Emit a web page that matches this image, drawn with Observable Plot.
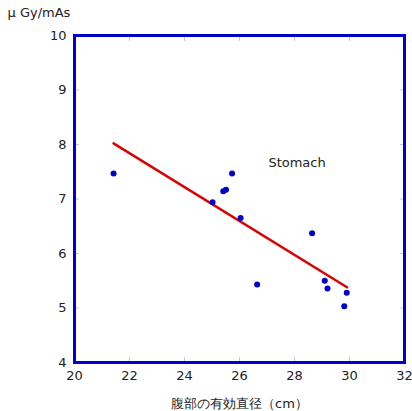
<!DOCTYPE html>
<html>
<head>
<meta charset="utf-8">
<script src="https://cdn.jsdelivr.net/npm/d3@7"></script>
<script src="https://cdn.jsdelivr.net/npm/@observablehq/plot@0.6"></script>
<style>
  html, body { margin: 0; padding: 0; background: #fff; }
  #chart svg { display: block; }
</style>
</head>
<body>
<div id="chart"></div>
<script>
// Data
const diameter = [21.42, 25.02, 25.41, 25.51, 25.73, 26.04, 28.64, 26.64, 29.10, 29.20, 29.90, 29.81];
const dose     = [7.47, 6.94, 7.14, 7.17, 7.47, 6.65, 6.37, 5.43, 5.50, 5.36, 5.28, 5.03];
const fitX = [21.42, 29.91];
const fitY = [8.02, 5.38];
const xTicks = [20, 22, 24, 26, 28, 30, 32];
const yTicks = [4, 5, 6, 7, 8, 9, 10];
const seriesLabel = ["Stomach"];
const seriesLabelPos = [27.05, 7.67];
const xLabel = "腹部の有効直径（cm）";
const yLabel = "μ Gy/mAs";

const points = diameter.map((d, i) => ({x: d, y: dose[i]}));
const fit = fitX.map((d, i) => ({x: d, y: fitY[i]}));

const blue = "#0000cc";
const tickColor = "#c0c0ff";
const font = "'DejaVu Sans', Verdana, sans-serif";

const chart = Plot.plot({
  width: 412,
  height: 411,
  marginLeft: 74,
  marginRight: 8,
  marginTop: 35,
  marginBottom: 49,
  style: {fontFamily: font, fontSize: "13px", color: "#000", background: "#fff"},
  x: {domain: [20, 32]},
  y: {domain: [4, 10]},
  marks: [
    // inward ticks on all four sides
    Plot.axisX(xTicks, {anchor: "bottom", tickSize: -5, stroke: tickColor, text: null, label: null}),
    Plot.axisX(xTicks, {anchor: "top", tickSize: -5, stroke: tickColor, text: null, label: null}),
    Plot.axisY(yTicks, {anchor: "left", tickSize: -5, stroke: tickColor, text: null, label: null}),
    Plot.axisY(yTicks, {anchor: "right", tickSize: -5, stroke: tickColor, text: null, label: null}),
    // tick labels
    Plot.axisX(xTicks, {anchor: "bottom", tickSize: 0, tickPadding: 8, fontSize: 13, fill: "#222",
      tickFormat: d => String(d),
      label: xLabel, labelAnchor: "center", labelArrow: "none", labelOffset: 45}),
    Plot.axisY(yTicks, {anchor: "left", tickSize: 0, tickPadding: 8, fontSize: 13, fill: "#222",
      tickFormat: d => String(d), label: null}),
    Plot.text([yLabel], {frameAnchor: "top-left", dx: -67, dy: -28, text: d => d, textAnchor: "start", fontSize: 13, fill: "#222"}),
    Plot.frame({stroke: blue, strokeWidth: 3}),
    Plot.line(fit, {x: "x", y: "y", stroke: "#dd0000", strokeWidth: 2.5}),
    Plot.dot(points, {x: "x", y: "y", r: 3, fill: blue, stroke: "none"}),
    Plot.text(seriesLabel, {x: seriesLabelPos[0], y: seriesLabelPos[1], text: d => d, textAnchor: "start", fontSize: 13, fill: "#222"})
  ]
});
document.getElementById("chart").appendChild(chart);
</script>
</body>
</html>
